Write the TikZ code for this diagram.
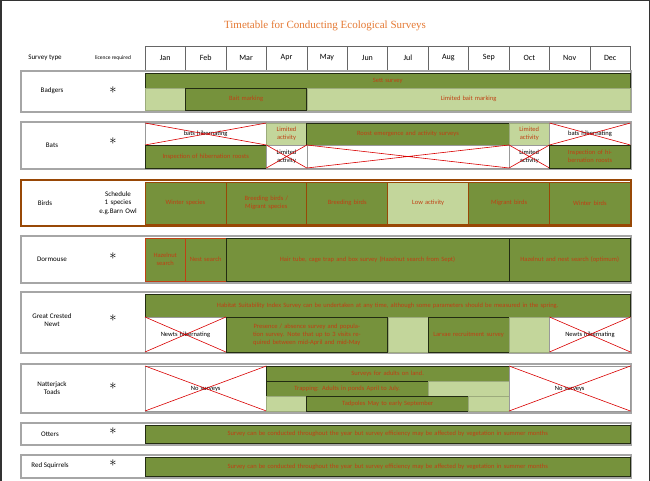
\documentclass[tikz,border=0pt]{standalone}
\usepackage{fontspec}
\setmainfont{Carlito}
\newfontfamily\titlefont{Liberation Serif}
\definecolor{dkgreen}{RGB}{118,146,60}
\definecolor{ltgreen}{RGB}{195,214,155}
\definecolor{celltxt}{RGB}{192,64,20}
\definecolor{birdbrown}{RGB}{152,72,6}
\definecolor{titleorange}{RGB}{228,120,50}
\tikzset{
  celltext/.style={align=center, inner sep=0pt, font=\fontsize{6.5}{8}\selectfont, text=celltxt},
  dark/.style={fill=dkgreen, draw=black!70!dkgreen, line width=0.8pt},
  light/.style={fill=ltgreen, draw=ltgreen!80!black, line width=0.4pt},
  blank/.style={fill=white, draw=black!40, line width=0.4pt},
  block/.style={draw=gray!70, line width=1.6pt, fill=white},
  lbl/.style={font=\fontsize{7}{8.5}\selectfont, align=center, inner sep=0pt},
  star/.style={font=\Large, inner sep=0pt},
}
% cell: name, first month, last month, top, bottom, style, text
\newcommand\cell[7]{%
  \pgfmathsetmacro\xa{145+40.45*(#2-1)}\pgfmathsetmacro\xb{145+40.45*#3}%
  \pgfmathsetmacro\tw{\xb-\xa-4}%
  \draw[#6] (\xa,#4) rectangle (\xb,#5);
  \node[celltext, text width=\tw pt] (#1) at ({(\xa+\xb)/2},{(#4+#5)/2}) {#7};}
% crossed-out cell
\newcommand\xcell[6]{%
  \pgfmathsetmacro\xa{145+40.45*(#2-1)}\pgfmathsetmacro\xb{145+40.45*#3}%
  \pgfmathsetmacro\tw{\xb-\xa-2}%
  \draw[blank] (\xa,#4) rectangle (\xb,#5);
  \node[celltext, text=black, text width=\tw pt] (#1) at ({(\xa+\xb)/2},{(#4+#5)/2}) {#6};
  \draw[red!85!black, line width=0.6pt] (\xa,#4) -- (\xb,#5) (\xa,#5) -- (\xb,#4);}
\begin{document}
\begin{tikzpicture}[x=1pt,y=-1pt]
\useasboundingbox (0,0) rectangle (650,481);
\clip (0,0) rectangle (650,481);
\draw[gray!40!black, line width=3pt] (0,0) rectangle (650,500);

\node[font=\titlefont\fontsize{11}{12}\selectfont, text=titleorange] (title) at (325,26) {Timetable for Conducting Ecological Surveys};

% header
\node[lbl] (stype) at (45,58) {Survey type};
\node[lbl, font=\fontsize{5.5}{6}\selectfont] (licence) at (113,58) {licence required};
\foreach \m [count=\i] in {Jan,Feb,Mar,Apr,May,Jun,Jul,Aug,Sep,Oct,Nov,Dec} {
  \pgfmathsetmacro\xa{145+40.45*(\i-1)}
  \draw[black!60, line width=0.5pt] (\xa,46) rectangle +(40.45,24);
  \node[font=\fontsize{8}{9}\selectfont] (m\i) at (\xa+20.2,58) {\m};
}

% Badgers
\draw[block] (21,71) rectangle (631,112);
\node[lbl] (badgers) at (52,91) {Badgers};
\node[star] (bstar) at (113,90) {$\ast$};
\cell{sett}{1}{12}{73}{88}{dark}{Sett survey}
\cell{bait0}{1}{1}{88}{110}{light}{}
\cell{bait}{2}{4}{88}{110}{dark}{Bait marking}
\cell{lbait}{5}{12}{88}{110}{light}{Limited bait marking}

% Bats
\draw[block] (21,122) rectangle (631,169);
\node[lbl] (bats) at (52,145) {Bats};
\node[star] (batstar) at (113,141) {$\ast$};
\xcell{hib1}{1}{3}{123}{145}{bats hibernating}
\cell{lim1}{4}{4}{123}{145}{light}{Limited activity}
\cell{roost}{5}{9}{123}{145}{dark}{Roost emergence and activity surveys}
\cell{lim2}{10}{10}{123}{145}{light}{Limited activity}
\xcell{hib2}{11}{12}{123}{145}{bats hibernating}
\cell{insp1}{1}{3}{145}{168}{dark}{Inspection of hibernation roosts}
\xcell{lim3}{4}{4}{145}{168}{Limited activity}
\xcell{none}{5}{9}{145}{168}{}
\xcell{lim4}{10}{10}{145}{168}{Limited activity}
\cell{insp2}{11}{12}{145}{168}{dark}{Inspection of hibernation roosts}

% Birds
\draw[fill=white, draw=birdbrown, line width=2pt] (21,180) rectangle (631,226);
\node[lbl] (birds) at (45,203) {Birds};
\node[lbl, text width=48pt] (sched) at (118,203) {Schedule 1 species e.g.Barn Owl};
\tikzset{dark/.append style={draw=birdbrown}, light/.append style={draw=birdbrown, line width=0.8pt}}
\cell{wint1}{1}{2}{182}{224}{dark}{Winter species}
\cell{breed1}{3}{4}{182}{224}{dark}{Breeding birds / Migrant species}
\cell{breed2}{5}{6}{182}{224}{dark}{Breeding birds}
\cell{low}{7}{8}{182}{224}{light}{Low activity}
\cell{migr}{9}{10}{182}{224}{dark}{Migrant birds}
\cell{wint2}{11}{12}{182}{224}{dark}{Winter birds}
\tikzset{dark/.style={fill=dkgreen, draw=black!70!dkgreen, line width=0.8pt},
  light/.style={fill=ltgreen, draw=ltgreen!80!black, line width=0.4pt}}

% Dormouse
\draw[block] (21,236) rectangle (631,283);
\node[lbl] (dorm) at (52,259) {Dormouse};
\node[star] (dstar) at (113,256) {$\ast$};
\cell{hazel}{1}{1}{238}{281}{dark, draw=celltxt}{Hazelnut search}
\cell{nest}{2}{2}{238}{281}{dark, draw=celltxt}{Nest search}
\cell{hair}{3}{9}{238}{281}{dark}{Hair tube, cage trap and box survey (Hazelnut search from Sept)}
\cell{hazel2}{10}{12}{238}{281}{dark}{Hazelnut and nest search (optimum)}

% Great Crested Newt
\draw[block] (21,292) rectangle (631,353);
\node[lbl] (gcn) at (52,320) {Great Crested\\Newt};
\node[star] (gstar) at (113,318) {$\ast$};
\cell{hsi}{1}{12}{294}{317}{dark}{Habitat Suitability Index Survey can be undertaken at any time, although some parameters should be measured in the spring.}
\xcell{nhib1}{1}{2}{317}{352}{Newts hibernating}
\cell{pres}{3}{6}{317}{352}{dark}{Presence / absence survey and population survey. Note that up to 3 visits required between mid-April and mid-May}
\cell{gjul}{7}{7}{317}{352}{light}{}
\cell{larv}{8}{9}{317}{352}{dark}{Larvae recruitment survey}
\cell{goct}{10}{10}{317}{352}{light}{}
\xcell{nhib2}{11}{12}{317}{352}{Newts hibernating}

% Natterjack Toads
\draw[block] (21,364) rectangle (631,413);
\node[lbl] (toads) at (52,388) {Natterjack\\Toads};
\node[star] (tstar) at (113,386) {$\ast$};
\xcell{nos1}{1}{3}{366}{411}{No surveys}
\cell{land}{4}{9}{366}{381}{dark}{Surveys for adults on land.}
\cell{trap}{4}{7}{381}{396}{dark}{Trapping: Adults in ponds April to July.}
\cell{trapl}{8}{9}{381}{396}{light}{}
\cell{tadl1}{4}{4}{396}{411}{light}{}
\cell{tad}{5}{8}{396}{411}{dark}{Tadpoles May to early September}
\cell{tadl2}{9}{9}{396}{411}{light}{}
\xcell{nos2}{10}{12}{366}{411}{No surveys}

% Otters
\draw[block] (21,423) rectangle (631,445);
\node[lbl] (otters) at (50,434) {Otters};
\node[star] (ostar) at (113,431) {$\ast$};
\cell{otsv}{1}{12}{425}{443}{dark}{Survey can be conducted throughout the year but survey efficiency may be affected by vegetation in summer months}

% Red Squirrels
\draw[block] (21,455) rectangle (631,478);
\node[lbl] (squir) at (50,466) {Red Squirrels};
\node[star] (sstar) at (113,463) {$\ast$};
\cell{sqsv}{1}{12}{457}{476}{dark}{Survey can be conducted throughout the year but survey efficiency may be affected by vegetation in summer months}
\end{tikzpicture}
\end{document}
